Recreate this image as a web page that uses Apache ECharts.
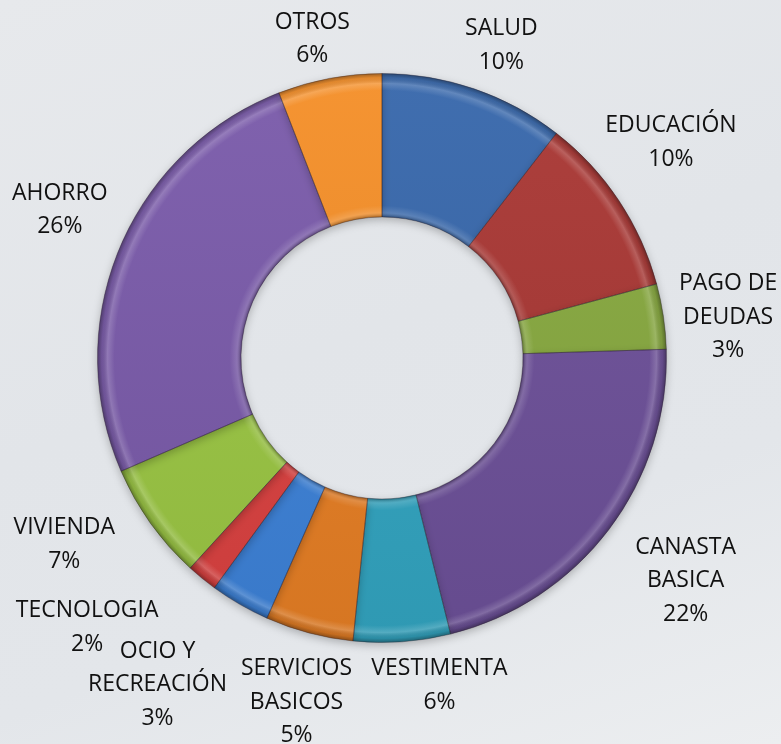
<!DOCTYPE html>
<html>
<head>
<meta charset="utf-8">
<script src="https://cdn.jsdelivr.net/npm/echarts@6/dist/echarts.min.js"></script>
<style>
  html, body { margin: 0; padding: 0; }
  body {
    width: 781px; height: 744px; overflow: hidden;
    background: linear-gradient(160deg, #e7e9ec 0%, #e2e5e9 45%, #e3e6ea 70%, #eceef0 100%);
  }
  #chart { width: 781px; height: 744px; }
</style>
</head>
<body>
<div id="chart"></div>
<script>
// categorias y porcentajes
const categories = ['SALUD', 'EDUCACIÓN', 'PAGO DE\nDEUDAS', 'CANASTA\nBASICA', 'VESTIMENTA',
  'SERVICIOS\nBASICOS', 'OCIO Y\nRECREACIÓN', 'TECNOLOGIA', 'VIVIENDA', 'AHORRO', 'OTROS'];
const values = [10.5, 10.3, 3.7, 21.6, 5.5, 5.0, 3.4, 1.75, 6.7, 25.6, 5.9];
const pctLabels = ['10%', '10%', '3%', '22%', '6%', '5%', '3%', '2%', '7%', '26%', '6%'];

const baseColors = ['#3868ac', '#aa3835', '#88aa40', '#6e519a', '#33a6c3', '#e98025',
  '#3e83da', '#dd4241', '#9cc845', '#7b5bab', '#f59029'];
// colocacion de etiquetas: distancia fuera del anillo y giro (grados)
const labelDist = [50, 76, 64, 92, 48, 70, 112, 115, 84, 70, 42];
const labelTurn = [2.0, -3.1, 1.7, -0.9, -5.9, -0.9, 4.5, 8.3, 5.1, 2.0, -1.7];

const cx = 382, cy = 358, rOut = 284.5, rIn = 141;

function shade(hex, amt) {
  let n = parseInt(hex.slice(1), 16);
  let r = (n >> 16) & 255, g = (n >> 8) & 255, b = n & 255;
  const f = c => Math.max(0, Math.min(255, Math.round(amt > 0 ? c + (255 - c) * amt : c * (1 + amt))));
  return 'rgb(' + f(r) + ',' + f(g) + ',' + f(b) + ')';
}

const chart = echarts.init(document.getElementById('chart'));

const baseData = categories.map(function (name, i) {
  return {
    name: name,
    value: values[i],
    itemStyle: {
      color: {
        type: 'linear', global: true, x: 0, y: cy - rOut, x2: 0, y2: cy + rOut,
        colorStops: [
          { offset: 0, color: shade(baseColors[i], 0.04) },
          { offset: 1, color: shade(baseColors[i], -0.08) }
        ]
      }
    }
  };
});

const bevel = {
  type: 'radial', global: true, x: cx, y: cy, r: rOut,
  colorStops: [
    { offset: rIn / rOut, color: 'rgba(0,0,0,0.30)' },
    { offset: rIn / rOut + 0.015, color: 'rgba(255,255,255,0.15)' },
    { offset: rIn / rOut + 0.04, color: 'rgba(255,255,255,0)' },
    { offset: 0.94, color: 'rgba(255,255,255,0)' },
    { offset: 0.965, color: 'rgba(255,255,255,0.18)' },
    { offset: 0.985, color: 'rgba(0,0,0,0.08)' },
    { offset: 1, color: 'rgba(0,0,0,0.35)' }
  ]
};

const option = {
  animation: false,
  series: [
    {
      type: 'pie',
      center: [cx, cy],
      radius: [rIn, rOut],
      startAngle: 90,
      clockwise: true,
      avoidLabelOverlap: false,
      data: baseData,
      itemStyle: {
        shadowBlur: 8,
        shadowOffsetY: 3,
        shadowColor: 'rgba(0,0,0,0.25)'
      },
      label: {
        show: true,
        position: 'outside',
        formatter: function (p) { return p.name + '\n' + pctLabels[p.dataIndex]; },
        fontFamily: 'Open Sans',
        fontSize: 23,
        lineHeight: 33.5,
        color: '#111'
      },
      labelLine: { show: true, length: 10, length2: 0, lineStyle: { opacity: 0 } },
      labelLayout: function (p) {
        const pts = p.labelLinePoints;
        if (!pts) return {};
        const dx = pts[1][0] - pts[0][0], dy = pts[1][1] - pts[0][1];
        const i = p.dataIndex;
        const a = Math.atan2(dx, -dy) + labelTurn[i] * Math.PI / 180;
        const d = rOut + labelDist[i];
        return {
          x: cx + Math.sin(a) * d,
          y: cy - Math.cos(a) * d,
          align: 'center',
          verticalAlign: 'middle'
        };
      }
    },
    {
      type: 'pie',
      silent: true,
      center: [cx, cy],
      radius: [rIn, rOut],
      startAngle: 90,
      clockwise: true,
      data: values.map(function (v, i) { return { name: categories[i], value: v }; }),
      itemStyle: {
        color: bevel,
        borderColor: 'rgba(40,30,40,0.35)',
        borderWidth: 1
      },
      label: { show: false },
      labelLine: { show: false }
    }
  ]
};

chart.setOption(option);
</script>
</body>
</html>
